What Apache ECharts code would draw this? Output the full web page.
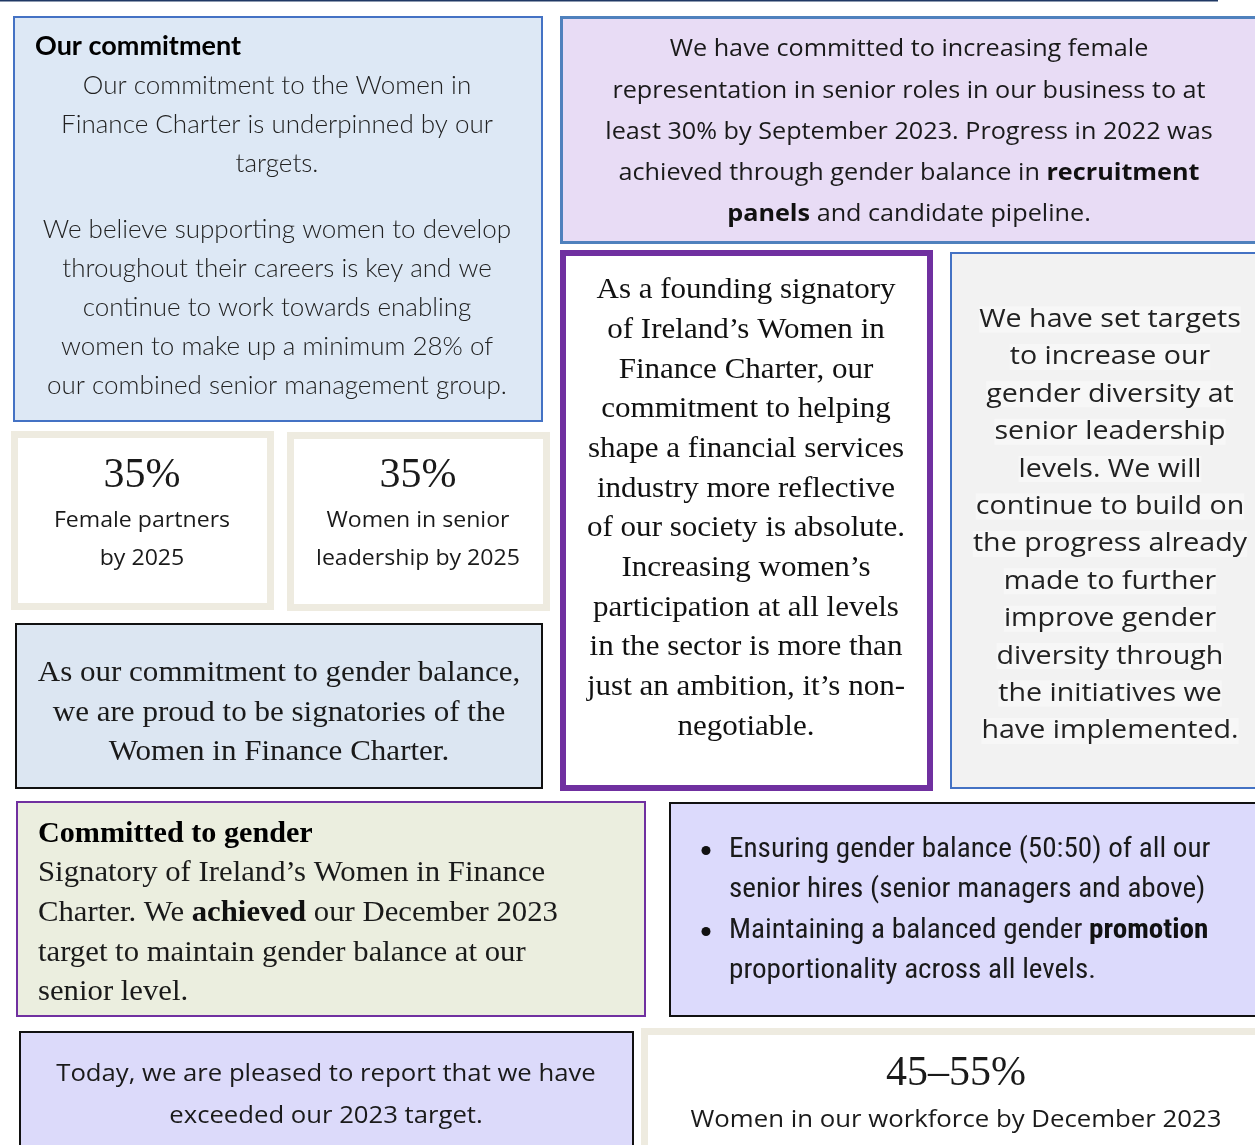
<!DOCTYPE html>
<html><head><meta charset="utf-8">
<script src="https://cdn.jsdelivr.net/npm/echarts@6/dist/echarts.min.js"></script>
<style>html,body{margin:0;padding:0;background:#fff}#c{width:1255px;height:1145px}</style>
</head><body><div id="c"></div>
<script>
// ---- text data ----
const commitmentTitle = 'Our commitment';
const commitmentLines = ['Our commitment to the Women in','Finance Charter is underpinned by our','targets.'];
const commitmentLines2 = ['We believe supporting women to develop','throughout their careers is key and we','continue to work towards enabling','women to make up a minimum 28% of','our combined senior management group.'];
const seniorRolesLines = ['We have committed to increasing female','representation in senior roles in our business to at','least 30% by September 2023. Progress in 2022 was','achieved through gender balance in {b|recruitment}','{b|panels} and candidate pipeline.'];
const targetValues = ['35%','35%'];
const targetLabels = [['Female partners','by 2025'],['Women in senior','leadership by 2025']];
const signatoryLines = ['As our commitment to gender balance,','we are proud to be signatories of the','Women in Finance Charter.'];
const foundingLines = ['As a founding signatory','of Ireland\u2019s Women in','Finance Charter, our','commitment to helping','shape a financial services','industry more reflective','of our society is absolute.','Increasing women\u2019s','participation at all levels','in the sector is more than','just an ambition, it\u2019s non-','negotiable.'];
const diversityLines = ['We have set targets','to increase our','gender diversity at','senior leadership','levels. We will','continue to build on','the progress already','made to further','improve gender','diversity through','the initiatives we','have implemented.'];
const committedTitle = 'Committed to gender';
const committedLines = ['Signatory of Ireland\u2019s Women in Finance','Charter. We {b|achieved} our December 2023','target to maintain gender balance at our','senior level.'];
const bulletLines = [['Ensuring gender balance (50:50) of all our','senior hires (senior managers and above)'],['Maintaining a balanced gender {b|promotion}','proportionality across all levels.']];
const todayLines = ['Today, we are pleased to report that we have','exceeded our 2023 target.'];
const workforceValue = '45\u201355%';
const workforceLabel = 'Women in our workforce by December 2023';

// ---- layout ----
const SANS = 'Lato, "Open Sans", sans-serif';
const OPEN = '"Open Sans", sans-serif';
const SERIF = '"Liberation Serif", "DejaVu Serif", serif';
const NARROW = '"Liberation Sans Narrow", "Roboto Condensed", Roboto, sans-serif';
const DY = 1.5;
const els = [];
function rect(x, y, w, h, fill, stroke, lw) {
  els.push({type:'rect', shape:{x:x, y:y, width:w, height:h}, style:{fill:fill, stroke:stroke, lineWidth:lw}});
}
function lines(arr, x, y0, lh, font, size, opts) {
  opts = opts || {};
  arr.forEach(function (t, i) {
    if (!t) return;
    els.push({type:'text', x:x, y:y0 + i*lh + DY, scaleX:opts.sx || 1, style:Object.assign({
      text:t, fill:'#1a1a1a', fontFamily:font, fontSize:size,
      fontWeight:opts.weight || 'normal',
      align:opts.align || 'center', verticalAlign:'middle',
      rich:{b:{fontWeight:'bold', fontFamily:font, fontSize:size, fill:'#111'}}
    }, opts.extra || {})});
  });
}

// top rule
els.push({type:'line', shape:{x1:0, y1:0.5, x2:1218, y2:0.5}, style:{stroke:'#1f3864', lineWidth:2}});

// Box 1: our commitment
rect(14, 17, 528, 404, '#dde8f5', '#4472c4', 2);
lines([commitmentTitle], 35, 45, 0, SANS, 27, {align:'left', weight:'bold', extra:{fill:'#000'}});
lines(commitmentLines, 277, 84, 39, SANS, 26, {weight:300, extra:{fill:'#222'}});
lines(commitmentLines2, 277, 228, 39, SANS, 26, {weight:300, extra:{fill:'#222'}});

// Box 2: senior roles
rect(561.5, 17.5, 700, 225, '#e8dcf5', '#4f81bd', 3);
lines(seniorRolesLines, 909, 48, 41.2, OPEN, 24, {sx:1.05});

// Boxes 3/4: 35% targets
[[11, 431], [287, 432]].forEach(function (p, i) {
  rect(p[0] + 3.5, p[1] + 3.5, 256, 172, '#ffffff', '#eeebe0', 7);
  lines([targetValues[i]], p[0] + 131, 474, 0, SERIF, 42);
  lines(targetLabels[i], p[0] + 131, 520, 38, OPEN, 21, {sx:1.1});
});

// Box 5: signatories
rect(16, 624, 526, 164, '#dce6f2', '#111', 2);
lines(signatoryLines, 279, 672, 39.5, SERIF, 29, {sx:1.07});

// Box 6: founding signatory (purple)
rect(563, 253, 367, 535, '#ffffff', '#7030a0', 6);
lines(foundingLines, 746, 289, 39.7, SERIF, 29, {sx:1.07, extra:{fill:'#111'}});

// Box 7: diversity targets
rect(951, 253, 310, 535, '#f2f2f2', '#4472c4', 2);
lines(diversityLines, 1110, 318, 37.4, OPEN, 26, {sx:1.1, extra:{backgroundColor:'#f7f7f7', fill:'#222'}});

// Box 8: committed to gender
rect(17, 802, 628, 214, '#ebeedf', '#7030a0', 2);
lines([committedTitle], 38, 833, 0, SERIF, 29, {align:'left', weight:'bold', sx:1.04, extra:{fill:'#000'}});
lines(committedLines, 38, 872, 39.7, SERIF, 29, {align:'left', sx:1.06});

// Box 9: bullets
rect(670, 803, 600, 213, '#dcdafc', '#111', 2);
var by = 849;
bulletLines.forEach(function (b) {
  els.push({type:'circle', shape:{cx:706, cy:by + DY, r:4.5}, style:{fill:'#111'}});
  lines(b, 729, by, 40, NARROW, 27, {align:'left', sx:1.08});
  by += 81;
});

// Box 10: today
rect(20, 1032, 613, 130, '#dcdafa', '#111', 2);
lines(todayLines, 326, 1073, 42, OPEN, 24, {sx:1.07});

// Box 11: 45-55%
rect(644.5, 1031.5, 640, 140, '#ffffff', '#eeebe0', 7);
lines([workforceValue], 956, 1072, 0, SERIF, 42);
lines([workforceLabel], 956, 1119, 0, OPEN, 23, {sx:1.12});

const chart = echarts.init(document.getElementById('c'));
chart.setOption({animation:false, graphic:{elements:els}});
</script></body></html>
